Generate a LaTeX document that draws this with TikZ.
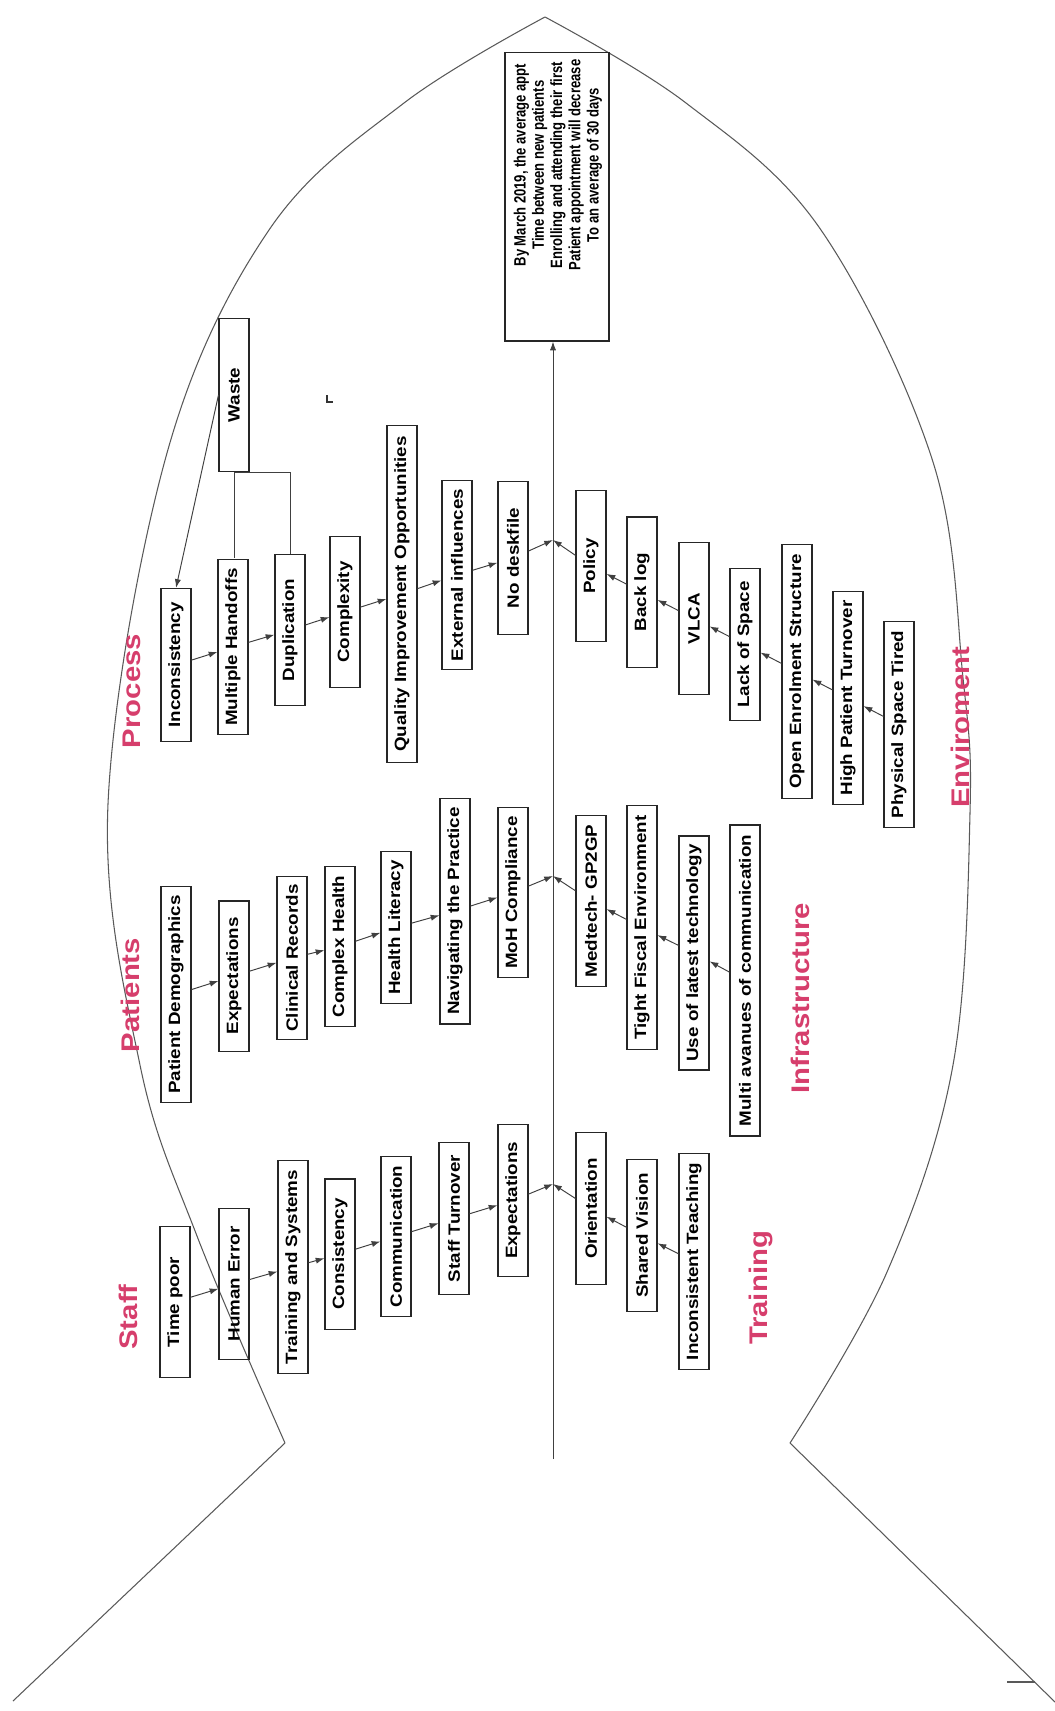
\documentclass[tikz,border=0pt]{standalone}
\usepackage{fontspec}
\setmainfont{Liberation Sans}
\usepackage{xcolor}
\usepackage{tikz}
\usetikzlibrary{arrows.meta}

\definecolor{catred}{RGB}{214,62,108}

\begin{document}
\begin{tikzpicture}[
        x=0.02cm, y=-0.02cm,
        cause/.style={draw=black!85, line width=0.6pt, rotate=90, xscale=1.15, minimum height=0.6cm, inner sep=1pt,
            font=\bfseries\fontsize{9.3}{11}\selectfont},
        category/.style={rotate=90, xscale=1.15, text=catred, font=\bfseries\fontsize{14.5}{17}\selectfont},
        link/.style={draw=black!75, line width=0.55pt, -{Latex[length=5pt,width=3.5pt]}},
        outline/.style={draw=black!65, line width=0.6pt}]

    \useasboundingbox (0,0) rectangle (1055,1711);

    % fish
    \draw[outline] plot[smooth, tension=0.6] coordinates {(285,1443) (197,1236) (140,1065) (108,804)
        (167,453) (269,230) (404,103) (545,17)};
    \draw[outline] plot[smooth, tension=0.6] coordinates {(545,17) (686,103) (821,230) (933,462)
        (963,678) (970,813) (953,1065) (887,1272) (790,1443)};
    \draw[outline] (285,1443) -- (13,1701);
    \draw[outline] (790,1443) -- (1055,1702);
    \draw[outline] (1007,1682) -- (1035,1682);
    \draw[line width=1.1pt, black!80] (327,395) -- (327,402) -- (333,402);

    % goal
    \node[draw=black!85, line width=0.6pt, minimum width=2.08cm, minimum height=5.78cm] (goal) at (557,196.5) {};
    \node[rotate=90, xscale=0.8, align=center, font=\bfseries\fontsize{9.3}{10.4}\selectfont] (goaltext) at (558,165)
        {By March 2019, the average appt\\Time between new patients\\Enrolling and attending their first\\
         Patient appointment will decrease\\To an average of 30 days};

    \coordinate (tail) at (553,1459);
    \coordinate (j1) at (553,540);
    \coordinate (j2) at (553,876);
    \coordinate (j3) at (553,1184);
    \draw[link] (tail) -- (tail |- goal.south);

    % categories
    \node[category] (process) at (132,691) {Process};
    \node[category] (patients) at (130,995) {Patients};
    \node[category] (staff) at (128,1317) {Staff};
    \node[category] (training) at (761,1288) {Training};
    \node[category] (infra) at (800,998) {Infrastructure};
    \node[category] (environ) at (960,727) {Enviroment};

    % process
    \node[cause, minimum width=2.66cm] (waste) at (234,395) {Waste};
    \node[cause, minimum width=2.66cm] (incons) at (176,665) {Inconsistency};
    \node[cause, minimum width=3.06cm] (handoffs) at (233,647) {Multiple Handoffs};
    \node[cause, minimum width=2.63cm] (dupl) at (290,630) {Duplication};
    \node[cause, minimum width=2.63cm] (complex) at (345,612) {Complexity};
    \node[cause, minimum width=5.86cm] (qio) at (402,594) {Quality Improvement Opportunities};
    \node[cause, minimum width=3.30cm] (extern) at (457,575) {External influences};
    \node[cause, minimum width=2.66cm] (deskfile) at (513,558) {No deskfile};

    \draw[link] (waste.north) -- (incons.east);
    \draw[draw=black!75, line width=0.55pt] (waste.west) -- (waste.west |- handoffs.east);
    \draw[draw=black!75, line width=0.55pt] (waste.west) -| (dupl.east);
    \draw[link] (incons) -- (handoffs);
    \draw[link] (handoffs) -- (dupl);
    \draw[link] (dupl) -- (complex);
    \draw[link] (complex) -- (qio);
    \draw[link] (qio) -- (extern);
    \draw[link] (extern) -- (deskfile);
    \draw[link] (deskfile) -- (j1);

    % patients
    \node[cause, minimum width=3.77cm] (demog) at (176,994.5) {Patient Demographics};
    \node[cause, minimum width=2.61cm] (pexpect) at (234,976) {Expectations};
    \node[cause, minimum width=2.85cm] (records) at (292,958) {Clinical Records};
    \node[cause, minimum width=2.77cm] (complexh) at (340,946.5) {Complex Health};
    \node[cause, minimum width=2.63cm] (literacy) at (396,927.5) {Health Literacy};
    \node[cause, minimum width=3.93cm] (navig) at (455,911) {Navigating the Practice};
    \node[cause, minimum width=2.97cm] (moh) at (513,892.5) {MoH Compliance};

    \draw[link] (demog) -- (pexpect);
    \draw[link] (pexpect) -- (records);
    \draw[link] (records) -- (complexh);
    \draw[link] (complexh) -- (literacy);
    \draw[link] (literacy) -- (navig);
    \draw[link] (navig) -- (moh);
    \draw[link] (moh) -- (j2);

    % staff
    \node[cause, minimum width=2.64cm] (timepoor) at (175,1302) {Time poor};
    \node[cause, minimum width=2.64cm] (humanerr) at (234,1284) {Human Error};
    \node[cause, minimum width=3.72cm] (trainsys) at (293,1267) {Training and Systems};
    \node[cause, minimum width=2.61cm] (consist) at (340,1254) {Consistency};
    \node[cause, minimum width=2.77cm] (commun) at (396,1236.5) {Communication};
    \node[cause, minimum width=2.63cm] (staffturn) at (454,1218.5) {Staff Turnover};
    \node[cause, minimum width=2.63cm] (sexpect) at (513,1200.5) {Expectations};

    \draw[link] (timepoor) -- (humanerr);
    \draw[link] (humanerr) -- (trainsys);
    \draw[link] (trainsys) -- (consist);
    \draw[link] (consist) -- (commun);
    \draw[link] (commun) -- (staffturn);
    \draw[link] (staffturn) -- (sexpect);
    \draw[link] (sexpect) -- (j3);

    % environment
    \node[cause, minimum width=2.64cm] (policy) at (591,566) {Policy};
    \node[cause, minimum width=2.61cm] (backlog) at (642,592) {Back log};
    \node[cause, minimum width=2.63cm] (vlca) at (694,618.5) {VLCA};
    \node[cause, minimum width=2.63cm] (lackspace) at (745,644.5) {Lack of Space};
    \node[cause, minimum width=4.43cm] (enrol) at (797,671.5) {Open Enrolment Structure};
    \node[cause, minimum width=3.72cm] (turnover) at (848,698) {High Patient Turnover};
    \node[cause, minimum width=3.57cm] (physical) at (899,724.5) {Physical Space Tired};

    \draw[link] (physical) -- (turnover);
    \draw[link] (turnover) -- (enrol);
    \draw[link] (enrol) -- (lackspace);
    \draw[link] (lackspace) -- (vlca);
    \draw[link] (vlca) -- (backlog);
    \draw[link] (backlog) -- (policy);
    \draw[link] (policy) -- (j1);

    % infrastructure
    \node[cause, minimum width=2.96cm] (medtech) at (591,901) {Medtech- GP2GP};
    \node[cause, minimum width=4.23cm] (fiscal) at (642,927.5) {Tight Fiscal Environment};
    \node[cause, minimum width=4.07cm] (usetech) at (694,953) {Use of latest technology};
    \node[cause, minimum width=5.41cm] (multi) at (745,980.5) {Multi avanues of communication};

    \draw[link] (multi) -- (usetech);
    \draw[link] (usetech) -- (fiscal);
    \draw[link] (fiscal) -- (medtech);
    \draw[link] (medtech) -- (j2);

    % training
    \node[cause, minimum width=2.63cm] (orient) at (591,1208.5) {Orientation};
    \node[cause, minimum width=2.63cm] (vision) at (642,1235.5) {Shared Vision};
    \node[cause, minimum width=3.77cm] (teaching) at (694,1261.5) {Inconsistent Teaching};

    \draw[link] (teaching) -- (vision);
    \draw[link] (vision) -- (orient);
    \draw[link] (orient) -- (j3);
\end{tikzpicture}
\end{document}
